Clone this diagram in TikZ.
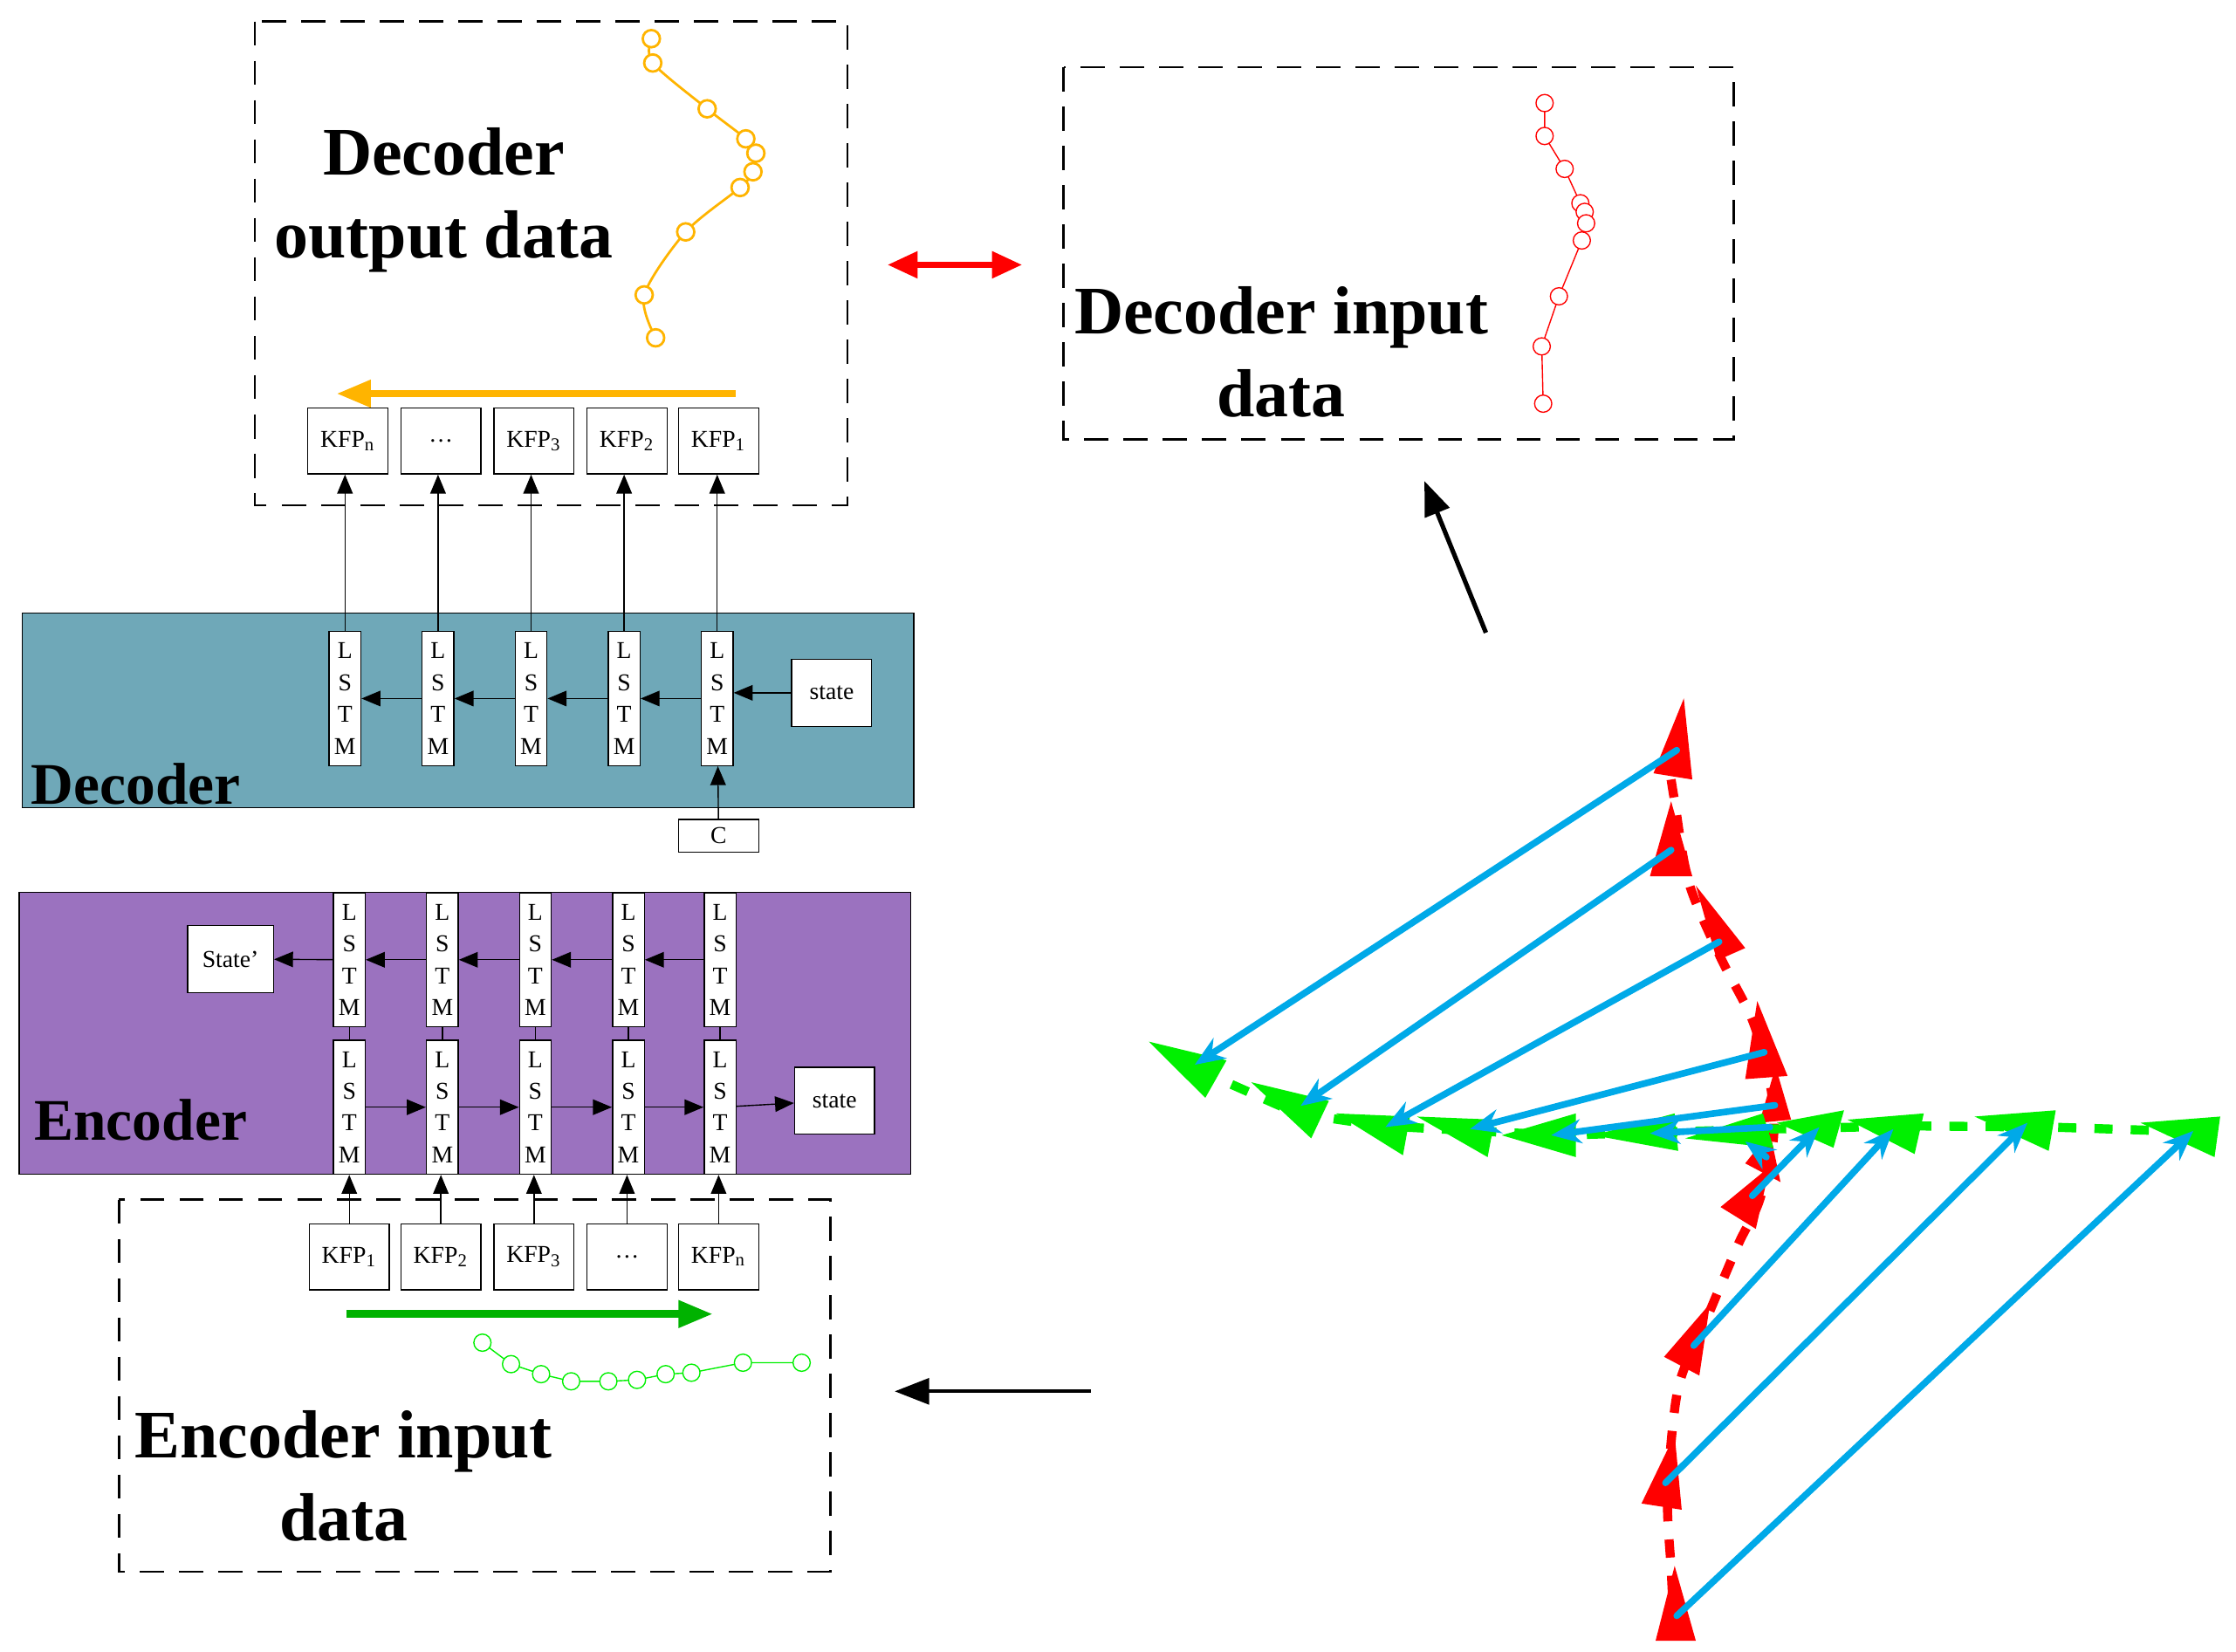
\documentclass[tikz,border=0pt]{standalone}
\usepackage{fontspec}
\setmainfont{Liberation Serif}
\usetikzlibrary{positioning,arrows.meta,calc}
\definecolor{decteal}{RGB}{111,168,184}
\definecolor{encpurple}{RGB}{155,114,191}
\definecolor{outyellow}{RGB}{255,180,0}
\definecolor{trblue}{RGB}{0,169,232}
\definecolor{trgreen}{RGB}{0,240,0}
\tikzset{
  kfp/.style  = {rectangle, draw, fill=white, minimum width=0.93cm,
                 minimum height=0.77cm, inner sep=0pt, font=\fontsize{8}{9}\selectfont},
  cell/.style = {rectangle, draw, fill=white, minimum width=0.37cm,
                 minimum height=1.56cm, inner sep=0pt, align=center,
                 font=\fontsize{8}{10.5}\selectfont},
  frame/.style = {draw, dashed, dash pattern=on 8pt off 5pt, thick},
  big/.style  = {font=\fontsize{22.5}{27.5}\selectfont\bfseries, align=center},
  arr/.style  = {-{Triangle[length=2.2mm,width=1.8mm]}},
  pt/.style   = {circle, draw, fill=white, inner sep=0pt, minimum size=0.2cm}
}
\begin{document}
\begin{tikzpicture}[x=0.01665cm,y=-0.01665cm]
\useasboundingbox (0,0) rectangle (1562,1154);

% decoder output frame
\draw[frame] (178,15) rectangle (592,353);
\node[big] (outtxt) at (310,140) {Decoder\\output data};
\draw[outyellow,thick] plot[smooth] coordinates {(455,27) (456,44) (494,76) (521,97) (528,107) (526,120) (517,131) (479,162) (450,206) (458,236)};
\foreach \p in {(455,27),(456,44),(494,76),(521,97),(528,107),(526,120),(517,131),(479,162),(450,206),(458,236)}
  \node[pt,draw=outyellow,thick] at \p {};
\coordinate (ya) at (514,275); \coordinate (yb) at (235,275);
\draw[outyellow,line width=2.5pt,-{Triangle[length=4mm,width=3mm]}] (ya) -- (yb);
\foreach \n/\x/\t in {o5/243/KFP\textsubscript{n}, o4/308/\ldots, o3/373/KFP\textsubscript{3}, o2/438/KFP\textsubscript{2}, o1/502/KFP\textsubscript{1}}
  \node[kfp] (\n) at (\x,308) {\t};

% decoder input frame
\draw[frame] (743,47) rectangle (1211,307);
\node[big] (intxt) at (895,246) {Decoder input\\data};
\draw[red] plot coordinates {(1079,72) (1079,95) (1093,118) (1104,142) (1107,148) (1108,156) (1105,168) (1089,207) (1077,242) (1078,282)};
\foreach \p in {(1079,72),(1079,95),(1093,118),(1104,142),(1107,148),(1108,156),(1105,168),(1089,207),(1077,242),(1078,282)}
  \node[pt,draw=red] at \p {};
\coordinate (ra) at (620,185); \coordinate (rb) at (714,185);
\draw[red,line width=2pt,{Triangle[length=3.5mm,width=3mm]}-{Triangle[length=3.5mm,width=3mm]}] (ra) -- (rb);
\coordinate (ka) at (1038,442); \coordinate (kb) at (995,336);
\draw[line width=1.5pt,-{Triangle[length=4mm,width=3mm]}] (ka) -- (kb);

% decoder
\node[draw,fill=decteal,minimum width=10.37cm,minimum height=2.26cm,anchor=north west] (dec) at (15,428) {};
\node[font=\fontsize{19.5}{22}\selectfont\bfseries,anchor=south west,inner sep=1pt] at ([xshift=2pt]dec.south west) {Decoder};
\foreach \n/\x in {d5/241,d4/306,d3/371,d2/436,d1/501}
  \node[cell] (\n) at (\x,488) {L\\S\\T\\M};
\node[kfp,minimum height=0.78cm] (dstate) at (581,484) {state};
\node[kfp,minimum height=0.38cm] (cbox) at (502,584) {C};
\draw[arr] (dstate.west) -- (dstate.west -| d1.east);
\draw[arr] (d1) -- (d2);
\draw[arr] (d2) -- (d3);
\draw[arr] (d3) -- (d4);
\draw[arr] (d4) -- (d5);
\draw[arr] (cbox) -- (d1);
\foreach \i in {1,...,5}
  \draw[arr] (d\i.north) -- (d\i.north |- o\i.south);

% encoder
\node[draw,fill=encpurple,minimum width=10.37cm,minimum height=3.28cm,anchor=north west] (enc) at (13,623) {};
\node[font=\fontsize{19.5}{22}\selectfont\bfseries,anchor=south west,inner sep=1pt] at ([xshift=4pt,yshift=10pt]enc.south west) {Encoder};
\foreach \n/\x in {1/244,2/309,3/374,4/439,5/503} {
  \node[cell] (u\n) at (\x,670.5) {L\\S\\T\\M};
  \node[cell] (l\n) at (\x,773.5) {L\\S\\T\\M};
  \draw (u\n) -- (l\n);
}
\node[kfp,minimum width=1cm,minimum height=0.78cm] (sprime) at (161,670) {State'};
\node[kfp,minimum height=0.78cm] (estate) at (583,769) {state};
\draw[arr] (u5) -- (u4);
\draw[arr] (u4) -- (u3);
\draw[arr] (u3) -- (u2);
\draw[arr] (u2) -- (u1);
\draw[arr] (u1) -- (sprime);
\draw[arr] (l1) -- (l2);
\draw[arr] (l2) -- (l3);
\draw[arr] (l3) -- (l4);
\draw[arr] (l4) -- (l5);
\draw[arr] (l5) -- (estate);

% encoder input frame
\draw[frame] (83,838) rectangle (580,1098);
\foreach \n/\x/\t in {i1/244/KFP\textsubscript{1}, i2/308/KFP\textsubscript{2}, i3/373/KFP\textsubscript{3}, i4/438/\ldots, i5/502/KFP\textsubscript{n}}
  \node[kfp] (\n) at (\x,878) {\t};
\foreach \i in {1,...,5}
  \draw[arr] (i\i.north) -- (i\i.north |- l\i.south);
\coordinate (ga) at (242,918); \coordinate (gb) at (498,918);
\draw[green!70!black,line width=2.5pt,-{Triangle[length=4mm,width=3mm]}] (ga) -- (gb);
\draw[trgreen] plot coordinates {(337,938) (357,953) (378,960) (399,965) (425,965) (445,964) (465,960) (483,959) (519,952) (560,952)};
\foreach \p in {(337,938),(357,953),(378,960),(399,965),(425,965),(445,964),(465,960),(483,959),(519,952),(560,952)}
  \node[pt,draw=trgreen] at \p {};
\node[big] (enctxt) at (240,1031) {Encoder input\\data};
\coordinate (ea) at (762,972); \coordinate (eb) at (625,972);
\draw[line width=1.2pt,-{Triangle[length=4mm,width=3mm]}] (ea) -- (eb);

% trajectory sketch
\begin{scope}[shift={(792.7,477)},xscale=0.493,yscale=0.436]
  \draw[red,line width=3pt,dash pattern=on 6pt off 6pt] plot[smooth] coordinates {(760,155) (765,190) (785,320) (830,440) (875,540) (900,640) (905,730) (885,830) (855,900) (810,1020) (770,1130) (755,1300) (760,1420) (765,1530)};
  \draw[trgreen,line width=3pt,dash pattern=on 6pt off 6pt] plot coordinates {(90,620) (230,690) (350,710) (600,725) (900,715) (1100,710) (1300,712) (1520,720)};
  \foreach \a/\b/\c in {{(778,25)}/{(735,145)}/{(790,155)}, {(760,190)}/{(730,310)}/{(790,310)}, {(795,325)}/{(825,445)}/{(865,425)}, {(882,510)}/{(865,635)}/{(925,630)}, {(908,615)}/{(885,705)}/{(930,700)}, {(900,720)}/{(865,770)}/{(915,800)}, {(900,775)}/{(830,840)}/{(880,875)}, {(815,995)}/{(750,1080)}/{(800,1110)}, {(765,1205)}/{(718,1315)}/{(775,1325)}, {(765,1415)}/{(738,1535)}/{(795,1535)}}
    \fill[red] \a -- \b -- \c -- cycle;
  \foreach \a/\b/\c in {{(20,575)}/{(130,605)}/{(100,665)}, {(165,640)}/{(275,670)}/{(250,730)}, {(285,690)}/{(390,695)}/{(380,757)}, {(400,695)}/{(510,700)}/{(500,760)}, {(520,725)}/{(625,690)}/{(625,760)}, {(650,725)}/{(765,690)}/{(770,750)}, {(780,730)}/{(890,690)}/{(905,745)}, {(1005,685)}/{(910,705)}/{(990,745)}, {(1118,690)}/{(1010,700)}/{(1105,755)}, {(1305,685)}/{(1190,695)}/{(1295,750)}, {(1538,695)}/{(1425,705)}/{(1530,760)}}
    \fill[trgreen] \a -- \b -- \c -- cycle;
  \foreach \s/\e in {{(768,108)}/{(85,612)}, {(760,268)}/{(235,678)}, {(828,415)}/{(355,712)}, {(892,592)}/{(475,715)}, {(907,677)}/{(590,725)}, {(900,712)}/{(730,722)}, {(895,760)}/{(865,735)}, {(875,822)}/{(970,712)}, {(792,1062)}/{(1075,715)}, {(752,1282)}/{(1265,705)}, {(768,1495)}/{(1500,718)}}
    \draw[trblue,line width=2.2pt,line cap=round,-{Stealth[length=3.5mm,width=2.8mm]}] \s -- \e;
\end{scope}
\end{tikzpicture}
\end{document}
